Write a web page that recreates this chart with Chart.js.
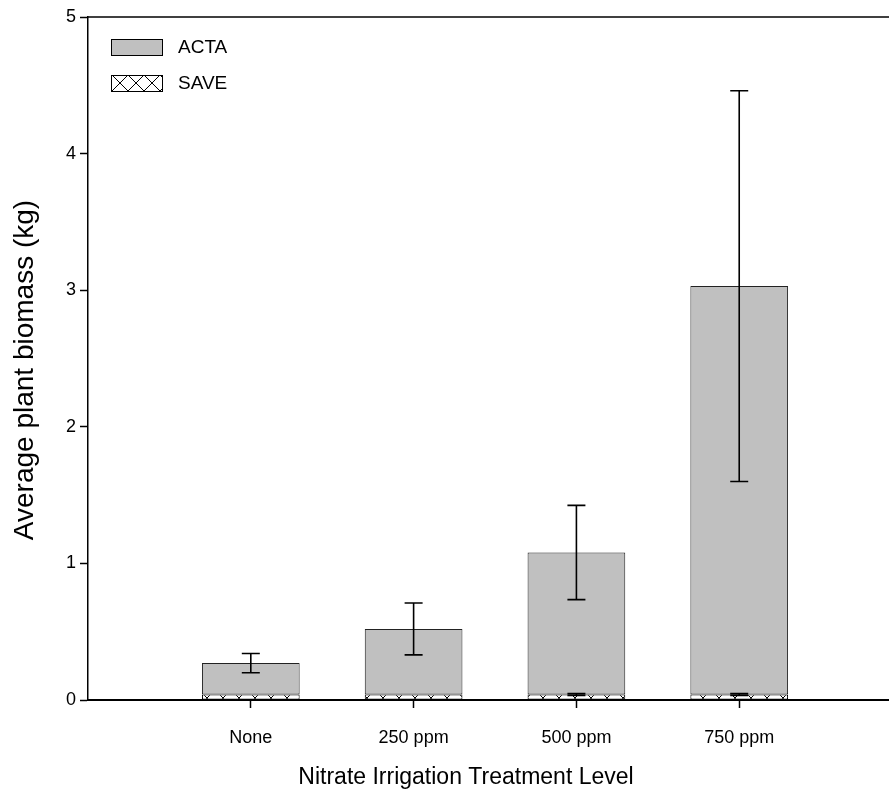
<!DOCTYPE html>
<html>
<head>
<meta charset="utf-8">
<script src="https://cdn.jsdelivr.net/npm/chart.js@4/dist/chart.umd.min.js"></script>
<style>
  body { margin: 0; background: #fff; }
</style>
</head>
<body>
<canvas id="biomassChart" width="889" height="792"></canvas>
<script>
// data
const categories = ['None', '250 ppm', '500 ppm', '750 ppm'];
const actaValues = [0.23, 0.48, 1.04, 2.99];
const actaErrors = [0.07, 0.19, 0.345, 1.43];
const saveValues = [0.04, 0.04, 0.04, 0.04];
const saveErrors = [0, 0, 0.007, 0.007];
const yTicks = [0, 1, 2, 3, 4, 5];
const xTitle = 'Nitrate Irrigation Treatment Level';
const yTitle = 'Average plant biomass (kg)';

const FONT = '"Liberation Sans", Arial, sans-serif';
Chart.defaults.font.family = FONT;
Chart.defaults.color = '#000';

// cross hatch used for SAVE
function makeHatch(ctx, dx, dy) {
  const c = document.createElement('canvas');
  c.width = 16; c.height = 16;
  const g = c.getContext('2d');
  g.fillStyle = '#fff';
  g.fillRect(0, 0, 16, 16);
  g.strokeStyle = '#000';
  g.lineWidth = 1;
  g.beginPath();
  g.moveTo(-1, -1); g.lineTo(17, 17);
  g.moveTo(17, -1); g.lineTo(-1, 17);
  g.stroke();
  const p = ctx.createPattern(c, 'repeat');
  p.setTransform(new DOMMatrix().translate(dx, dy));
  return p;
}

const ctx = document.getElementById('biomassChart').getContext('2d');
const barHatch = makeHatch(ctx, 7, 2);
const legendHatch = makeHatch(ctx, 0, 11);

const toPoints = vals => vals.map((v, i) => ({ x: i + 1, y: v }));

// error bars on top of each stacked segment
const errorBars = {
  id: 'errorBars',
  afterDatasetsDraw(chart) {
    const c = chart.ctx;
    const y = chart.scales.y;
    c.save();
    c.strokeStyle = '#000';
    c.lineWidth = 1.6;
    chart.data.datasets.forEach((ds, di) => {
      chart.getDatasetMeta(di).data.forEach((bar, i) => {
        const err = ds.errors[i];
        if (!err) return;
        const top = y.getValueForPixel(bar.y);
        const hi = y.getPixelForValue(top + err);
        const lo = y.getPixelForValue(top - err);
        c.beginPath();
        c.moveTo(bar.x, hi); c.lineTo(bar.x, lo);
        c.moveTo(bar.x - 9, hi); c.lineTo(bar.x + 9, hi);
        c.moveTo(bar.x - 9, lo); c.lineTo(bar.x + 9, lo);
        c.stroke();
      });
    });
    c.restore();
  }
};

// top frame line, axis titles, legend inside the plot
const frameAndLegend = {
  id: 'frameAndLegend',
  afterDraw(chart) {
    const c = chart.ctx;
    const a = chart.chartArea;
    c.save();
    c.strokeStyle = '#000';
    c.lineWidth = 1.5;
    c.beginPath();
    c.moveTo(a.left, a.top);
    c.lineTo(a.right, a.top);
    c.stroke();

    // axis titles
    c.fillStyle = '#000';
    c.textAlign = 'center';
    c.textBaseline = 'middle';
    c.font = '23px ' + FONT;
    c.fillText(xTitle, 466, 778);
    c.save();
    c.translate(25, 370);
    c.rotate(-Math.PI / 2);
    c.font = '28px ' + FONT;
    c.fillText(yTitle, 0, 0);
    c.restore();

    // legend
    const items = [
      { label: 'ACTA', fill: '#c0c0c0', y: 39 },
      { label: 'SAVE', fill: legendHatch, y: 75 }
    ];
    c.font = '19px ' + FONT;
    c.textAlign = 'left';
    items.forEach(it => {
      c.fillStyle = it.fill;
      c.fillRect(111, it.y, 51, 16);
      c.lineWidth = 1;
      c.strokeStyle = '#000';
      c.strokeRect(111.5, it.y + 0.5, 51, 16);
      c.fillStyle = '#000';
      c.fillText(it.label, 178, it.y + 9);
    });
    c.restore();
  }
};

new Chart(ctx, {
  type: 'bar',
  data: {
    datasets: [
      {
        label: 'SAVE',
        data: toPoints(saveValues),
        errors: saveErrors,
        backgroundColor: barHatch,
        borderColor: '#000',
        borderWidth: 1,
        borderSkipped: false,
        barPercentage: 0.6,
        categoryPercentage: 1
      },
      {
        label: 'ACTA',
        data: toPoints(actaValues),
        errors: actaErrors,
        backgroundColor: '#c0c0c0',
        borderColor: '#222',
        borderWidth: 1,
        borderSkipped: false,
        barPercentage: 0.6,
        categoryPercentage: 1
      }
    ]
  },
  options: {
    responsive: false,
    animation: false,
    layout: { padding: { top: 17, right: 0, left: 0, bottom: 0 } },
    plugins: {
      legend: { display: false },
      tooltip: { enabled: false }
    },
    scales: {
      x: {
        type: 'linear',
        stacked: true,
        offset: false,
        min: 0,
        max: 4.92,
        afterBuildTicks: s => { s.ticks = categories.map((c, i) => ({ value: i + 1 })); },
        afterFit: s => { s.height = 92; },
        ticks: {
          autoSkip: false,
          maxRotation: 0,
          padding: 19,
          font: { size: 18 },
          callback: v => categories[v - 1]
        },
        grid: {
          offset: false,
          drawOnChartArea: false,
          drawTicks: true,
          tickLength: 8,
          tickColor: '#000',
          tickWidth: 1.5
        },
        border: { color: '#000', width: 2 }
      },
      y: {
        stacked: true,
        min: 0,
        max: 5,
        afterBuildTicks: s => { s.ticks = yTicks.map(v => ({ value: v })); },
        afterFit: s => { s.width = 88; },
        ticks: {
          padding: 4,
          font: { size: 18 }
        },
        grid: {
          drawOnChartArea: false,
          drawTicks: true,
          tickLength: 8,
          tickColor: '#000',
          tickWidth: 1.5
        },
        border: { color: '#000', width: 1.5 }
      }
    }
  },
  plugins: [errorBars, frameAndLegend]
});
</script>
</body>
</html>
